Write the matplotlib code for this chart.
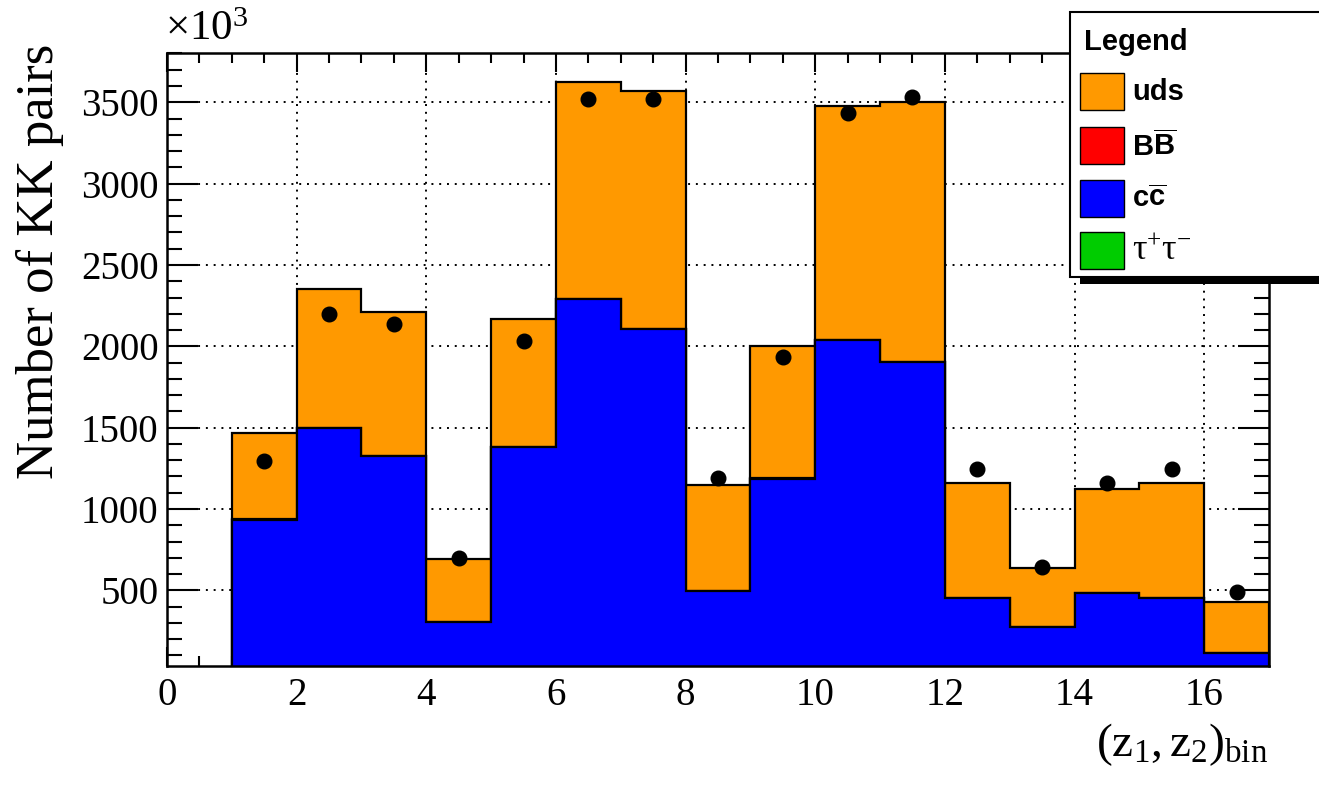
import numpy as np
import matplotlib
matplotlib.use('Agg')
import matplotlib.pyplot as plt
from matplotlib.patches import Rectangle
from matplotlib.ticker import MultipleLocator

plt.rcParams['mathtext.fontset'] = 'custom'
plt.rcParams['mathtext.rm'] = 'Liberation Serif'
plt.rcParams['mathtext.it'] = 'Liberation Serif:italic'
plt.rcParams['mathtext.bf'] = 'Liberation Sans:bold'

# ========= data (in units of 10^3) ========================
bin_edges = np.arange(1, 18)   # bins 1..17, bin 0-1 empty
tautau = [5, 8, 7, 2, 7, 10, 9, 3, 5, 9, 9, 3, 2, 3, 3, 1]
ccbar = [929, 1489, 1316, 303, 1374, 2278, 2095, 493, 1181, 2027, 1892, 449, 272, 480, 452, 113]
bbbar = [2, 3, 3, 1, 3, 4, 4, 1, 2, 4, 4, 1, 1, 1, 1, 0]
uds = [531, 854, 884, 388, 782, 1330, 1461, 648, 811, 1436, 1594, 708, 364, 638, 706, 312]
data = [1293, 2200, 2135, 701, 2030, 3522, 3522, 1190, 1934, 3436, 3532, 1246, 642, 1162, 1243, 487]

c_uds = '#ff9900'
c_bb = '#ff0000'
c_cc = '#0000ff'
c_tau = '#00cc00'

# =========================================================

fig = plt.figure(figsize=(13.19, 7.86), dpi=100)
ax = fig.add_axes([167/1319, 1 - 666/786, (1269-167)/1319, (666-53)/786])

# stack: tau at bottom, then cc, BB, uds on top; draw from the top down like ROOT
s1 = np.array(tautau)
s2 = s1 + np.array(ccbar)
s3 = s2 + np.array(bbbar)
s4 = s3 + np.array(uds)
for vals, col in [(s4, c_uds), (s3, c_bb), (s2, c_cc), (s1, c_tau)]:
    ax.stairs(vals, bin_edges, baseline=0, fill=True, facecolor=col,
              edgecolor='black', lw=1.6, zorder=2)

centers = 0.5 * (bin_edges[:-1] + bin_edges[1:])
ax.plot(centers, data, 'o', color='black', ms=10.5, zorder=4, clip_on=False)

ax.set_xlim(0, 17)
ax.set_ylim(35, 3803)
ax.xaxis.set_major_locator(MultipleLocator(2))
ax.xaxis.set_minor_locator(MultipleLocator(0.5))
ax.yaxis.set_minor_locator(MultipleLocator(100))
ax.set_yticks([500, 1000, 1500, 2000, 2500, 3000, 3500])

ax.set_axisbelow(True)
ax.grid(True, which='major', color='black', lw=1.4, ls=(0, (1, 3)))

ax.tick_params(which='both', direction='in', top=True, right=True, width=1.5,
               labelsize=28, colors='black', zorder=5)
ax.tick_params(axis='x', which='major', length=14, pad=8)
ax.tick_params(axis='x', which='minor', length=7)
ax.tick_params(axis='y', which='major', length=22, pad=6)
ax.tick_params(axis='y', which='minor', length=11)
for lab in ax.get_xticklabels() + ax.get_yticklabels():
    lab.set_family('Liberation Serif')
for sp in ax.spines.values():
    sp.set_linewidth(1.8)
    sp.set_zorder(6)


def fx(px):
    return px / 1319


def fy(py):
    return 1 - py / 786


# titles, placed like ROOT (y title aligned to the top of the axis)
fig.text(fx(40), fy(44), 'Number of KK pairs', family='Liberation Serif', fontsize=38,
         rotation=90, ha='center', va='top')
fig.text(fx(1268), fy(745), r'$\mathrm{(z_{1},z_{2})_{bin}}$', fontsize=34,
         ha='right', va='center')
fig.text(fx(165), fy(30), r'$\times\mathrm{10^{3}}$', fontsize=31,
         ha='left', va='center', family='Liberation Serif')

# legend box with shadow
fig.add_artist(Rectangle((fx(1080), fy(284)), fx(300), fy(22) - fy(284),
                         transform=fig.transFigure, facecolor='black', edgecolor='none', zorder=10))
fig.add_artist(Rectangle((fx(1070), fy(277)), fx(300), fy(12) - fy(277),
                         transform=fig.transFigure, facecolor='white', edgecolor='black',
                         lw=1.5, zorder=11))
fig.text(fx(1084), fy(42), 'Legend', family='Liberation Sans', weight='bold',
         fontsize=21, ha='left', va='center', zorder=12)

entries = [(c_uds, 'uds', 73, 21), (c_bb, r'$\mathbf{B\overline{B}}$', 127, 21),
           (c_cc, r'$\mathbf{c\overline{c}}$', 180, 21),
           (c_tau, r'$\mathrm{\tau^{+}\tau^{-}}$', 232, 26)]
for col, lab, top, fs in entries:
    fig.add_artist(Rectangle((fx(1080), fy(top + 37)), fx(44), fy(top) - fy(top + 37),
                             transform=fig.transFigure, facecolor=col, edgecolor='black',
                             lw=1.0, zorder=12))
    fig.text(fx(1132), fy(top + 19), lab, family='Liberation Sans', weight='bold',
             fontsize=fs, ha='left', va='center', zorder=12)

fig.savefig('out.png', dpi=100)
